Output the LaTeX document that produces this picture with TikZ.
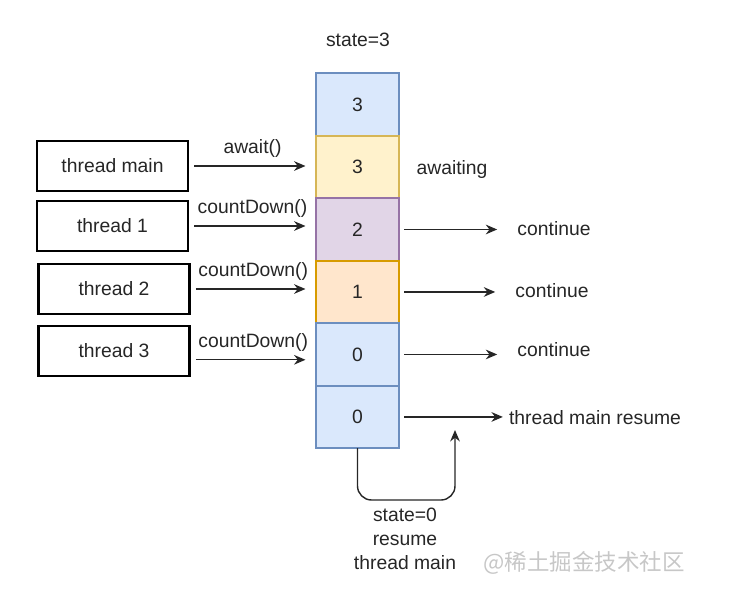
\documentclass[tikz,border=0pt]{standalone}
\usepackage{fontspec}
\setmainfont{Liberation Sans}
\newfontfamily\cjkfont{Noto Sans CJK SC}
\usetikzlibrary{arrows.meta,positioning}
\definecolor{blueFill}{HTML}{DAE8FC}
\definecolor{blueLine}{HTML}{6C8EBF}
\definecolor{yellowFill}{HTML}{FFF2CC}
\definecolor{yellowLine}{HTML}{D6B656}
\definecolor{purpleFill}{HTML}{E1D5E7}
\definecolor{purpleLine}{HTML}{9673A6}
\definecolor{orangeFill}{HTML}{FFE6CC}
\definecolor{orangeLine}{HTML}{D79B00}
\begin{document}
\begin{tikzpicture}[x=0.02cm, y=-0.02cm, font=\fontsize{11}{13.6}\selectfont, text=black!85,
  cell/.style={draw, line width=1.1pt, minimum width=1.66cm, minimum height=1.25cm, inner sep=0pt, outer sep=0pt},
  thread/.style={draw=black, line width=1.2pt, minimum width=3.02cm, minimum height=1cm},
  arr/.style={-{Stealth[length=6.5pt,width=5.5pt]}, line width=0.8pt, draw=black!85}]
  \useasboundingbox (0,0) rectangle (732,595);
  % Zaehler
  \node (state) at (358,40) {state=3};
  \node[cell, fill=blueFill, draw=blueLine] (c1) at (357.5,104.5) {3};
  \node[cell, fill=yellowFill, draw=yellowLine, below=0pt of c1] (c2) {3};
  \node[cell, fill=purpleFill, draw=purpleLine, below=0pt of c2] (c3) {2};
  \node[cell, fill=orangeFill, draw=orangeLine, below=0pt of c3] (c4) {1};
  \node[cell, fill=blueFill, draw=blueLine, below=0pt of c4] (c5) {0};
  \node[cell, fill=blueFill, draw=blueLine, below=0pt of c5] (c6) {0};
  % Threads
  \node[thread] (tmain) at (112.5,166) {thread main};
  \node[thread] (t1) at (112.5,226) {thread 1};
  \node[thread] (t2) at (114,289) {thread 2};
  \node[thread] (t3) at (114,351) {thread 3};
  \draw[arr, shorten <=3pt, shorten >=6pt] (tmain.east) -- (tmain.east -| c2.west) node[midway, above=1pt] {await()};
  \draw[arr, shorten <=3pt, shorten >=6pt] (t1.east) -- (t1.east -| c3.west) node[midway, above=1pt] {countDown()};
  \draw[arr, shorten <=3pt, shorten >=6pt] (t2.east) -- (t2.east -| c4.west) node[midway, above=1pt] {countDown()};
  \draw[arr, shorten <=3pt, shorten >=6pt] ([yshift=-5pt]t3.east) -- ([yshift=-5pt]t3.east -| c5.west) node[midway, above=1pt] {countDown()};
  % Rechte Seite
  \node (await) at (452,169) {awaiting};
  \node (k1) at (554,229) {continue};
  \node (k2) at (552,291) {continue};
  \node (k3) at (554,350) {continue};
  \node (res) at (595,418) {thread main resume};
  \draw[arr, shorten <=3pt, shorten >=8pt] (c3.east) -- (c3.east -| k1.west);
  \draw[arr, shorten <=3pt, shorten >=8pt] (c4.east) -- (c4.east -| k2.west);
  \draw[arr, shorten <=3pt, shorten >=8pt] (c5.east) -- (c5.east -| k3.west);
  \draw[arr, shorten <=3pt] (c6.east) -- (c6.east -| res.west);
  % Rueckweg
  \coordinate (base) at (455,500);
  \coordinate (ret) at (455,430);
  \draw[arr, rounded corners=8pt] (c6.south) |- (base) -- (ret);
  \node[align=center] (lbl) at (405,539) {state=0\\resume\\thread main};
  \node[text=black!22, font=\cjkfont\fontsize{12.8}{15}\selectfont] (mark) at (584,563) {@稀土掘金技术社区};
\end{tikzpicture}
\end{document}
